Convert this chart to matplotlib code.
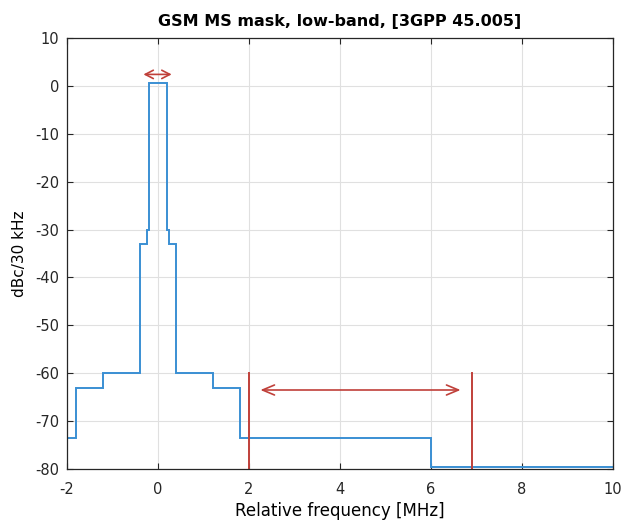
import numpy as np
import matplotlib.pyplot as plt

plt.rcParams['font.family'] = ['DejaVu Sans']
plt.rcParams['axes.unicode_minus'] = False

# mask edges [MHz] and levels [dBc/30 kHz]
edges = [-2, -1.8, -1.2, -0.4, -0.25, -0.2, 0.2, 0.25, 0.4, 1.2, 1.8, 6, 10]
levels = [-73.5, -63, -60, -33, -30, 0.5, -30, -33, -60, -63, -73.5, -79.5]

# red markers
marker_x = [2.0, 6.9]
marker_lo, marker_hi = -80, -60
span_arrow = (2.25, 6.65, -63.5)
bw_arrow = (-0.32, 0.3, 2.4)

fig = plt.figure(figsize=(6.25, 5.22), dpi=100)
ax = fig.add_axes([0.1072, 0.1015, 0.8736, 0.8257])

blue = '#3a8fd3'
red = '#c0403a'

ax.stairs(levels, edges, color=blue, linewidth=1.4, baseline=None)
for xm in marker_x:
    ax.plot([xm, xm], [marker_lo, marker_hi], color=red, linewidth=1.4)

for (x0, x1, y), (hl, hw) in zip([span_arrow, bw_arrow], [(0.43, 0.18), (0.29, 0.15)]):
    ax.annotate('', xy=(x1, y), xytext=(x0, y),
                arrowprops=dict(arrowstyle='<->,head_length=%s,head_width=%s' % (hl, hw),
                                color=red, lw=1.2, mutation_scale=20,
                                shrinkA=0, shrinkB=0))

ax.set_xlim(-2, 10)
ax.set_ylim(-80, 10)
ax.set_xticks(np.arange(-2, 11, 2))
ax.set_yticks(np.arange(-80, 11, 10))
ax.grid(True, color='#e0e0e0', linewidth=0.8)
ax.set_axisbelow(True)
ax.tick_params(direction='in', top=True, right=True, length=4,
               labelsize=10.5, colors='#262626')
ax.tick_params(axis='x', pad=9)
ax.tick_params(axis='y', pad=5.5)
for s in ax.spines.values():
    s.set_color('#262626')
    s.set_linewidth(0.9)

ax.set_title('GSM MS mask, low-band, [3GPP 45.005]', fontsize=11.5,
             fontweight='bold', pad=8.6)
ax.set_xlabel('Relative frequency [MHz]', fontsize=12, labelpad=4)
ax.set_ylabel('dBc/30 kHz', fontsize=11, labelpad=6)

fig.savefig('out.png', dpi=100)
